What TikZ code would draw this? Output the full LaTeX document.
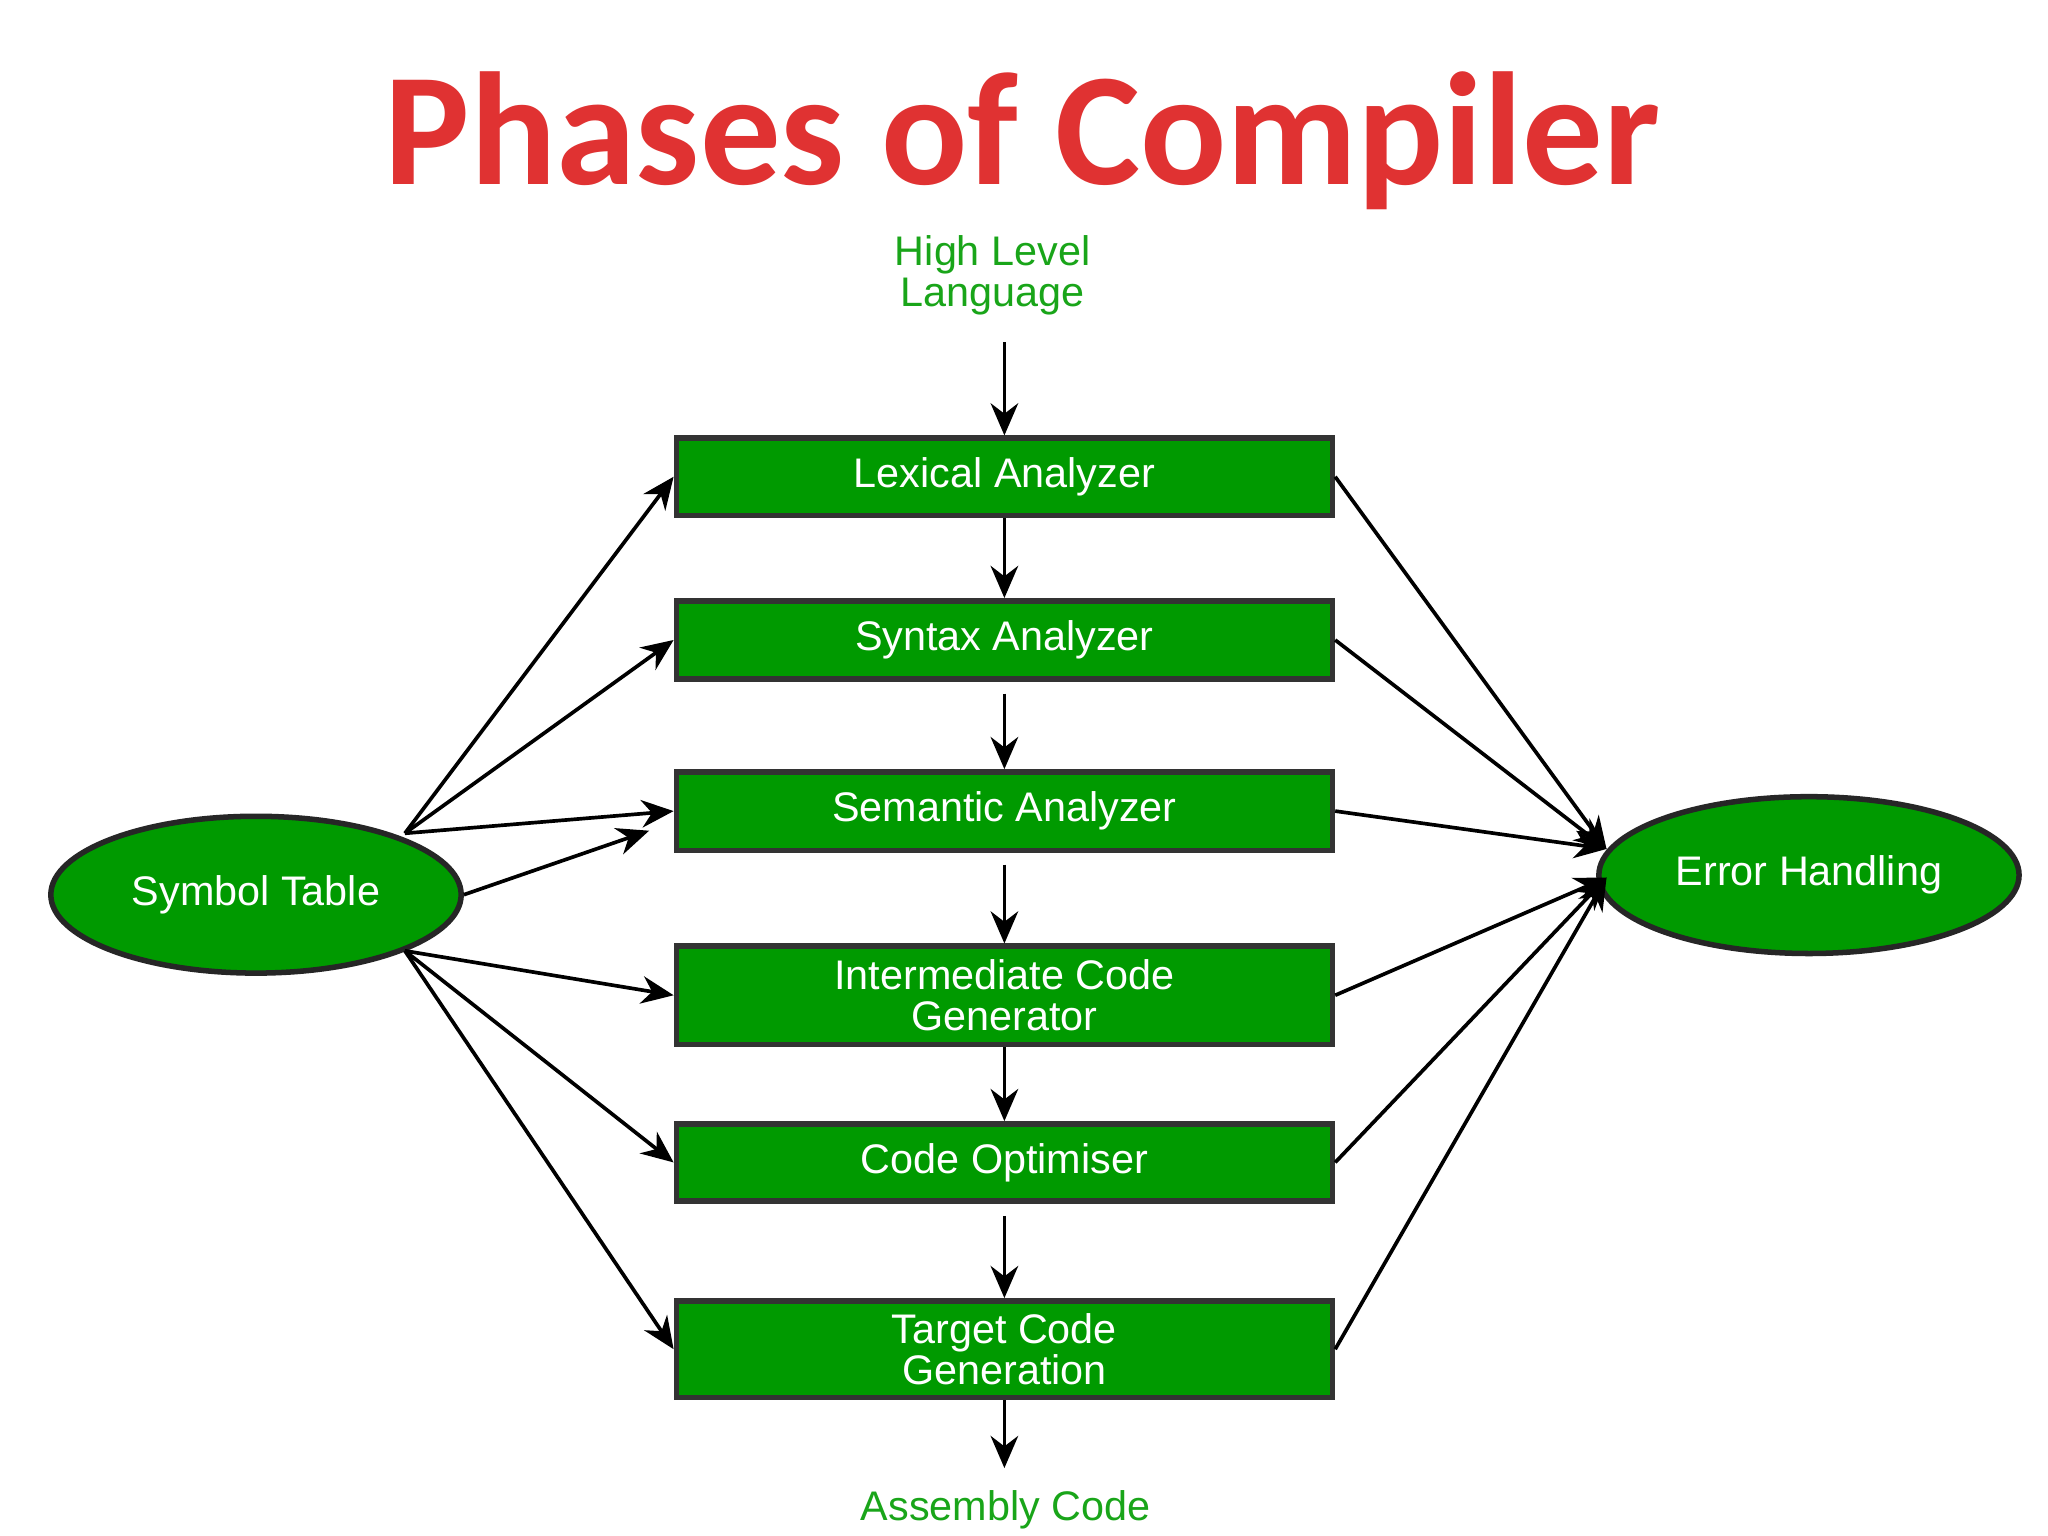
\documentclass[tikz,border=0pt]{standalone}
\usepackage{fontspec}
\setmainfont{Liberation Sans}
\newfontfamily\titlefont{Carlito}
\usetikzlibrary{shapes.geometric,arrows.meta}
\definecolor{gbox}{HTML}{009A00}
\definecolor{gtext}{HTML}{19A519}
\definecolor{tred}{HTML}{E03232}
\begin{document}
\begin{tikzpicture}[x=0.01cm,y=-0.01cm,
  box/.style={draw=black!80,line width=1.2pt,fill=gbox,minimum width=502\pgflinewidth,text=white,font=\fontsize{9}{10}\selectfont,align=center,inner sep=0pt},
  ell/.style={ellipse,draw=black!85,line width=1.2pt,fill=gbox,minimum width=314*0.01cm,minimum height=120*0.01cm,text=white,font=\fontsize{9}{10}\selectfont},
  arr/.style={-{Stealth[length=7pt,width=6pt]},line width=0.8pt},
  lbl/.style={text=gtext,font=\fontsize{9}{10}\selectfont,align=center}]
\useasboundingbox (0,0) rectangle (1568,1176);
\fill[white] (0,0) rectangle (1568,1176);
\node[text=tred,font=\titlefont\bfseries\fontsize{35}{40}\selectfont] (title) at (783,108) {Phases of Compiler};
\node[lbl] (hll) at (760,211) {High Level\\[-1pt]Language};
\node[lbl] (asm) at (770,1156) {Assembly Code};
\tikzset{b/.style={box,minimum width=5.02cm}}
\node[b,minimum height=0.59cm] (lex) at (769,365) {Lexical Analyzer};
\node[b,minimum height=0.60cm] (syn) at (769,490) {Syntax Analyzer};
\node[b,minimum height=0.60cm] (sem) at (769,621) {Semantic Analyzer};
\node[b,minimum height=0.75cm] (icg) at (769,762) {Intermediate Code\\[-1pt]Generator};
\node[b,minimum height=0.59cm] (opt) at (769,890) {Code Optimiser};
\node[b,minimum height=0.74cm] (tcg) at (769,1033) {Target Code\\[-1pt]Generation};
\node[ell,minimum width=3.14cm,minimum height=1.2cm] (sym) at (196,685) {Symbol Table};
\node[ell,minimum width=3.12cm,minimum height=1.2cm] (err) at (1385,670) {Error Handling};
\coordinate (hllb) at (769,262);
\draw[arr] (hllb) -- (lex);
\draw[arr] (lex.south) -- (syn.north);
\draw[arr] (769,531) -- (sem.north);
\draw[arr] (769,662) -- (icg.north);
\draw[arr] (icg.south) -- (opt.north);
\draw[arr] (769,931) -- (tcg.north);
\draw[arr] (tcg.south) -- (769,1124);
\coordinate (s1) at (310,638);
\coordinate (s2) at (310,728);
\coordinate (sm) at (497,636);
\draw[arr] (s1) -- (lex.west);
\draw[arr] (s1) -- (syn.west);
\draw[arr] (s1) -- (sem.west);
\draw[arr] (sym.east) -- (sm);
\draw[arr] (s2) -- (icg.west);
\draw[arr] (s2) -- (opt.west);
\draw[arr] (s2) -- (tcg.west);
\coordinate (e1) at (1230,650);
\coordinate (e2) at (1230,672);
\draw[arr] (lex.east) -- (e1);
\draw[arr] (syn.east) -- (e1);
\draw[arr] (sem.east) -- (e1);
\draw[arr] (icg.east) -- (e2);
\draw[arr] (opt.east) -- (e2);
\draw[arr] (tcg.east) -- (e2);
\end{tikzpicture}
\end{document}
